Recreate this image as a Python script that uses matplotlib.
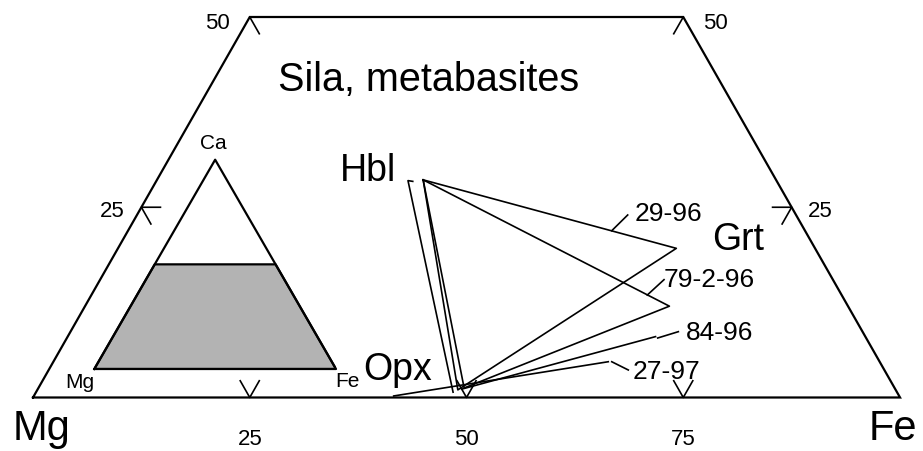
import numpy as np
import matplotlib
matplotlib.use("Agg")
import matplotlib.pyplot as plt

plt.rcParams['font.family'] = ['Liberation Sans', 'DejaVu Sans']

# compositions in percent (Fe, Ca); Mg = 100 - Fe - Ca
samples = ['29-96', '79-2-96', '84-96', '27-97']
hbl_fe = [30.7, 30.7]
hbl_ca = [28.6, 28.6]
grt_fe = [64.4, 67.4, 67.8, 64.0]
grt_ca = [19.6, 12.0, 8.0, 4.7]
opx_fe = [48.5, 49.1, 48.9, 41.5]
opx_ca = [1.0, 1.25, 1.1, 0.2]
# second hornblende (tie to opx only)
hbl2_fe = [29.6, 29.0, 48.1]
hbl2_ca = [28.4, 28.5, 0.7]

tick_values = [25, 50, 75]
side_ticks = [25, 50]
ca_max = 50

H = np.sqrt(3) / 2


def tern(fe, ca):
    fe = np.asarray(fe, dtype=float)
    ca = np.asarray(ca, dtype=float)
    return fe + ca / 2, ca * H


fig = plt.figure(figsize=(9.23, 4.52), dpi=100)
ax = fig.add_axes([0, 0, 1, 1])
ax.set_xlim(-3.806, 102.65)
ax.set_ylim(-6.089, 45.35)
ax.axis('off')

lw_frame = 1.6
lw_tie = 1.2

# outline of truncated triangle
x, y = tern([0, 100, 100 - ca_max, 0, 0], [0, 0, ca_max, ca_max, 0])
ax.plot(x, y, color='black', lw=lw_frame, solid_joinstyle='miter')

# ticks
L = 2.2
for v in tick_values:
    x, y = tern([v - L, v, v], [L, 0, L])
    ax.plot(x, y, color='black', lw=lw_tie)
for c in side_ticks:
    x, y = tern([L, 0, L], [c, c, c - L])
    ax.plot(x, y, color='black', lw=lw_tie)
    x, y = tern([100 - c - L, 100 - c, 100 - c], [c, c, c - L])
    ax.plot(x, y, color='black', lw=lw_tie)

# tie triangles
for i in range(2):
    x, y = tern([hbl_fe[i], grt_fe[i], opx_fe[i], hbl_fe[i]],
                [hbl_ca[i], grt_ca[i], opx_ca[i], hbl_ca[i]])
    ax.plot(x, y, color='black', lw=lw_tie)
for i in range(2, 4):
    x, y = tern([opx_fe[i], grt_fe[i]], [opx_ca[i], grt_ca[i]])
    ax.plot(x, y, color='black', lw=lw_tie)
x, y = tern(hbl2_fe, hbl2_ca)
ax.plot(x, y, color='black', lw=lw_tie)

# sample labels with leaders
label_pos = [(69.4, 21.0), (72.7, 13.5), (75.3, 7.45), (69.2, 3.0)]
leaders = [((66.75, 18.98), (68.59, 20.77)),
           ((70.85, 11.66), (72.78, 13.41)),
           ((72.05, 6.77), (74.43, 7.49)),
           ((66.75, 4.07), (68.66, 3.13))]
for s, (lx, ly), (p0, p1) in zip(samples, label_pos, leaders):
    ax.plot([p0[0], p1[0]], [p0[1], p1[1]], color='black', lw=lw_tie)
    ax.text(lx, ly, s, fontsize=19, ha='left', va='center')

# phase labels
ax.text(38.6, 25.9, 'Hbl', fontsize=27, ha='center', va='center')
ax.text(81.3, 18.0, 'Grt', fontsize=27, ha='center', va='center')
ax.text(42.0, 3.2, 'Opx', fontsize=27, ha='center', va='center')
ax.text(45.6, 36.3, 'Sila, metabasites', fontsize=28.5, ha='center', va='center')

# corner labels
ax.text(1.0, -4.7, 'Mg', fontsize=30, ha='center', va='baseline')
ax.text(99.2, -4.7, 'Fe', fontsize=30, ha='center', va='baseline')

# axis numbers
for v in tick_values:
    ax.text(v, -5.3, str(v), fontsize=16, ha='center', va='baseline')
ax.text(21.3, 42.05, '50', fontsize=16, ha='center', va='baseline')
ax.text(78.7, 42.05, '50', fontsize=16, ha='center', va='baseline')
ax.text(9.1, 20.66, '25', fontsize=16, ha='center', va='baseline')
ax.text(90.8, 20.66, '25', fontsize=16, ha='center', va='baseline')

# inset triangle
ins = fig.add_axes([94.3 / 923, (452 - 370) / 452, 241.7 / 923, 209.3 / 452])
ins.set_xlim(0, 100)
ins.set_ylim(0, 100 * H)
ins.axis('off')
x, y = tern([0, 100, 100 - ca_max, 0, 0], [0, 0, ca_max, ca_max, 0])
ins.fill(x, y, color='#b3b3b3', lw=0)
ins.plot(x, y, color='black', lw=lw_frame)
x, y = tern([0, 100, 0, 0], [0, 0, 100, 0])
ins.plot(x, y, color='black', lw=lw_frame, clip_on=False)
ins.text(49.1, 93.9, 'Ca', fontsize=15, ha='center', va='center')
ins.text(-5.9, -5.0, 'Mg', fontsize=15, ha='center', va='center')
ins.text(104.9, -4.6, 'Fe', fontsize=15, ha='center', va='center')

plt.savefig('out.png', dpi=100)
plt.close()
